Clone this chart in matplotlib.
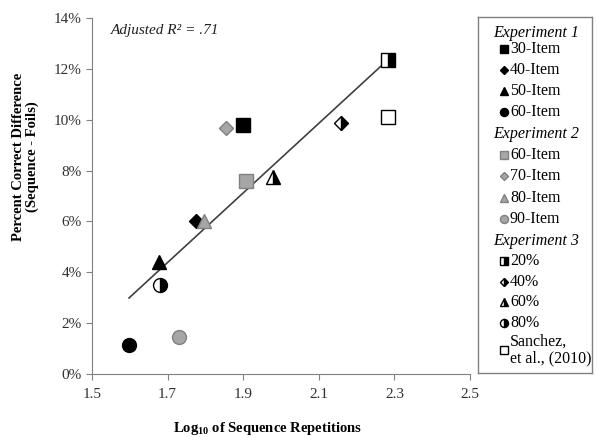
import matplotlib
matplotlib.use("Agg")
import matplotlib.pyplot as plt
from matplotlib.ticker import FuncFormatter

plt.rcParams['font.family'] = ['Liberation Serif', 'DejaVu Serif']
plt.rcParams['mathtext.fontset'] = 'custom'
plt.rcParams['mathtext.rm'] = 'Liberation Serif'
plt.rcParams['mathtext.bf'] = 'Liberation Serif:bold'
plt.rcParams['mathtext.it'] = 'Liberation Serif:italic'

# ---- data ----
exp1_labels = ["30-Item", "40-Item", "50-Item", "60-Item"]
exp1_x = [1.90, 1.775, 1.677, 1.598]
exp1_y = [9.8, 6.02, 4.4, 1.14]

exp2_labels = ["60-Item", "70-Item", "80-Item", "90-Item"]
exp2_x = [1.907, 1.855, 1.796, 1.73]
exp2_y = [7.6, 9.69, 6.0, 1.46]

exp3_labels = ["20%", "40%", "60%", "80%"]
exp3_x = [2.283, 2.159, 1.98, 1.68]
exp3_y = [12.36, 9.88, 7.75, 3.5]

sanchez_label = "Sanchez,\net al., (2010)"
sanchez_x = [2.283]
sanchez_y = [10.1]

trend_x = [1.598, 2.283]
trend_y = [2.99, 12.36]

x_ticks = [1.5, 1.7, 1.9, 2.1, 2.3, 2.5]
y_ticks = [0, 2, 4, 6, 8, 10, 12, 14]

markers = ['s', 'D', '^', 'o']
sizes = [9.5, 7, 10, 10]
leg_sizes = [5.2, 4, 5.8, 5.8]
GRAY = '#a6a6a6'
GRAYEDGE = '#808080'

fig = plt.figure(figsize=(5.97, 4.37), dpi=100)
W, H = 597, 437
ax = fig.add_axes([92 / W, 1 - 374 / H, (470 - 92) / W, (374 - 18) / H])

ax.plot(trend_x, trend_y, color='#404040', lw=1.2, zorder=2)

for i in range(4):
    ax.plot(exp1_x[i], exp1_y[i], marker=markers[i], ms=sizes[i], color='black',
            mec='black', ls='none', zorder=3)
    ax.plot(exp2_x[i], exp2_y[i], marker=markers[i], ms=sizes[i], color=GRAY,
            mec=GRAYEDGE, mew=1.0, ls='none', zorder=3)
    ax.plot(exp3_x[i], exp3_y[i], marker=markers[i], ms=sizes[i], color='black',
            mfc='black', mfcalt='white', fillstyle='right', mec='black', mew=1.0,
            ls='none', zorder=3)
ax.plot(sanchez_x, sanchez_y, marker='s', ms=sizes[0], mfc='white', mec='black',
        mew=1.0, ls='none', zorder=3)

ax.set_xlim(1.5, 2.5)
ax.set_ylim(0, 14)
ax.set_xticks(x_ticks)
ax.set_yticks(y_ticks)
ax.set_xticklabels([f"{v:.1f}" for v in x_ticks])
ax.yaxis.set_major_formatter(FuncFormatter(lambda v, p: f"{int(round(v))}%"))
for s in ['top', 'right']:
    ax.spines[s].set_visible(False)
for s in ['left', 'bottom']:
    ax.spines[s].set_color('#808080')
ax.tick_params(axis='both', direction='out', length=4, color='#808080',
               labelsize=11, labelcolor='#303030')
ax.tick_params(axis='x', pad=6)

ax.set_xlabel(r"Log$\mathbf{_{10}}$ of Sequence Repetitions", fontsize=10.5,
              fontweight='bold')
ax.xaxis.set_label_coords(0.465, -0.13)
ax.set_ylabel("Percent Correct Difference\n(Sequence - Foils)", fontsize=10.5,
              fontweight='bold', linespacing=1.1)
ax.yaxis.set_label_coords(-0.14, 0.61)

ax.text(0.05, 0.965, "Adjusted R² = .71", transform=ax.transAxes, fontsize=11,
        fontstyle='italic', va='center', ha='left', color='#202020')

# ---- legend panel ----
lx0, lx1, ly0, ly1 = 478, 592, 17, 373
lax = fig.add_axes([lx0 / W, 1 - ly1 / H, (lx1 - lx0) / W, (ly1 - ly0) / H])
lax.set_xlim(lx0, lx1)
lax.set_ylim(ly1, ly0)
lax.set_xticks([])
lax.set_yticks([])
for s in lax.spines.values():
    s.set_color('#808080')
    s.set_linewidth(1.0)

hx, mx, tx = 493, 504, 510
fs = 11.5
y_exp1 = [49, 70, 91, 112]
y_exp2 = [155, 176, 198, 219]
y_exp3 = [261, 282, 302, 323]

def header(text, y):
    lax.text(hx, y, text, fontsize=fs, fontstyle='italic', va='center', ha='left')

header("Experiment 1", 33)
for i in range(4):
    lax.plot(mx, y_exp1[i], marker=markers[i], ms=leg_sizes[i], color='black', ls='none')
    lax.text(tx, y_exp1[i], exp1_labels[i], fontsize=fs, va='center', ha='left')
header("Experiment 2", 134)
for i in range(4):
    lax.plot(mx, y_exp2[i], marker=markers[i], ms=leg_sizes[i], color=GRAY,
             mec=GRAYEDGE, ls='none')
    lax.text(tx, y_exp2[i], exp2_labels[i], fontsize=fs, va='center', ha='left')
header("Experiment 3", 241)
for i in range(4):
    lax.plot(mx, y_exp3[i], marker=markers[i], ms=leg_sizes[i], mfc='black',
             mfcalt='white', fillstyle='right', mec='black', ls='none')
    lax.text(tx, y_exp3[i], exp3_labels[i], fontsize=fs, va='center', ha='left')
lax.plot(mx, 350, marker='s', ms=leg_sizes[0], mfc='white', mec='black', ls='none')
lax.text(tx, 350, sanchez_label, fontsize=fs, va='center', ha='left', linespacing=1.0)

fig.savefig("out.png", dpi=100)
